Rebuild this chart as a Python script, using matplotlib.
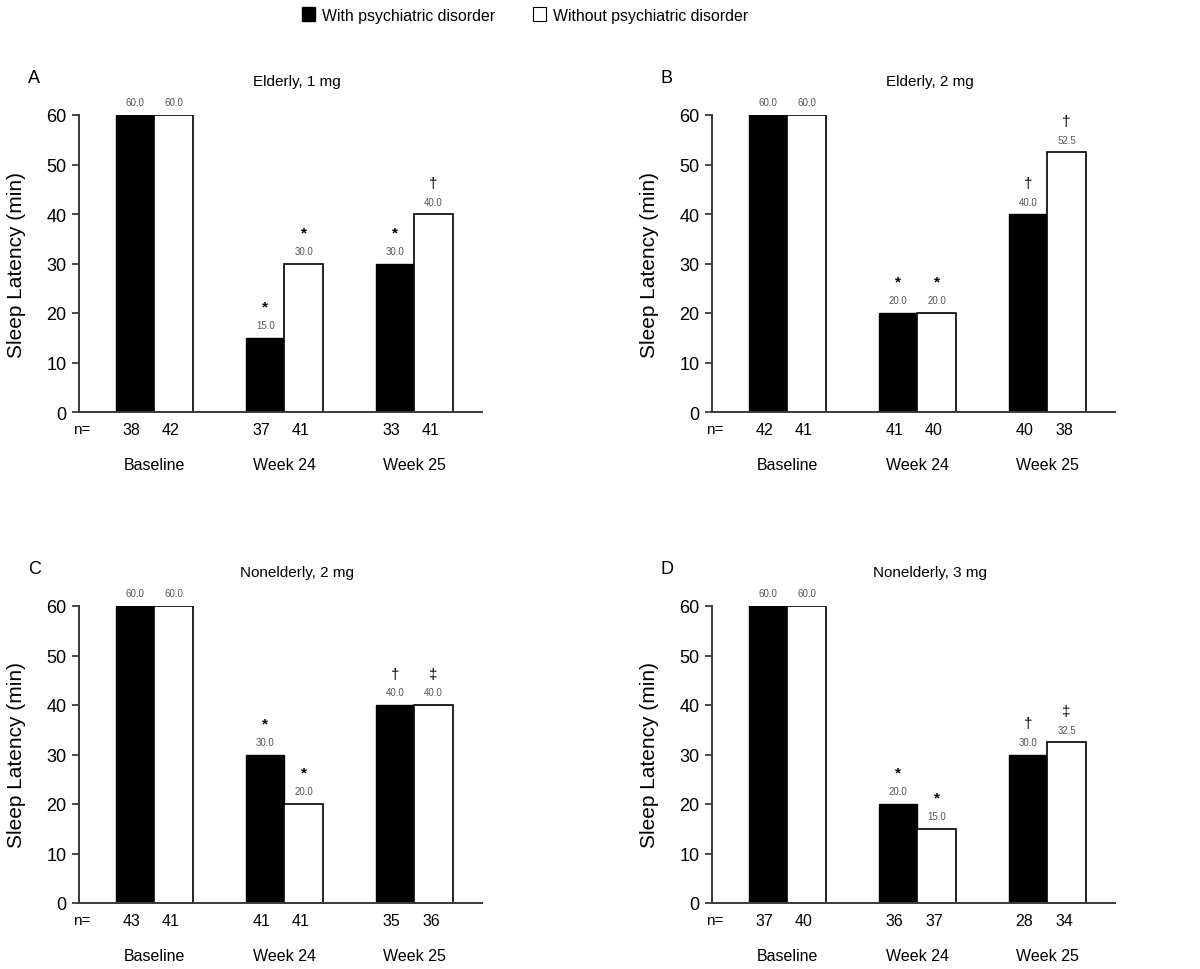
import matplotlib.pyplot as plt
import numpy as np
from matplotlib.patches import Patch

plt.rcParams["font.family"] = ["Liberation Sans", "DejaVu Sans"]

# categories shared by every panel
timepoints = ["Baseline", "Week 24", "Week 25"]

# panel A: Elderly, 1 mg
a_with = [60.0, 15.0, 30.0]
a_without = [60.0, 30.0, 40.0]
a_n_with = [38, 37, 33]
a_n_without = [42, 41, 41]
a_sig_with = ["", "*", "*"]
a_sig_without = ["", "*", "\u2020"]

# panel B: Elderly, 2 mg
b_with = [60.0, 20.0, 40.0]
b_without = [60.0, 20.0, 52.5]
b_n_with = [42, 41, 40]
b_n_without = [41, 40, 38]
b_sig_with = ["", "*", "\u2020"]
b_sig_without = ["", "*", "\u2020"]

# panel C: Nonelderly, 2 mg
c_with = [60.0, 30.0, 40.0]
c_without = [60.0, 20.0, 40.0]
c_n_with = [43, 41, 35]
c_n_without = [41, 41, 36]
c_sig_with = ["", "*", "\u2020"]
c_sig_without = ["", "*", "\u2021"]

# panel D: Nonelderly, 3 mg
d_with = [60.0, 20.0, 30.0]
d_without = [60.0, 15.0, 32.5]
d_n_with = [37, 36, 28]
d_n_without = [40, 37, 34]
d_sig_with = ["", "*", "\u2020"]
d_sig_without = ["", "*", "\u2021"]

AXIS_COLOR = "#3a3a3a"
LABEL_GRAY = "#555555"
BAR_W = 0.295


def panel(ax, letter, title, with_vals, without_vals, n_with, n_without,
          sig_with, sig_without):
    x = np.arange(len(timepoints))
    ax.bar(x - BAR_W / 2, with_vals, BAR_W, color="black",
           edgecolor="black", linewidth=1.0)
    ax.bar(x + BAR_W / 2, without_vals, BAR_W, color="white",
           edgecolor="black", linewidth=1.2)

    for xs, vals, sigs in ((x - BAR_W / 2, with_vals, sig_with),
                           (x + BAR_W / 2, without_vals, sig_without)):
        for xi, v, s in zip(xs, vals, sigs):
            ax.annotate(f"{v:.1f}", (xi, v), xytext=(0, 9),
                        textcoords="offset points", ha="center", va="center",
                        fontsize=7, color=LABEL_GRAY)
            if s:
                ax.annotate(s, (xi, v), xytext=(0, 22.5),
                            textcoords="offset points", ha="center",
                            va="center", fontsize=11, color="black",
                            fontweight="bold" if s == "*" else "normal")

    ax.set_xlim(-0.58, 2.52)
    ax.set_ylim(0, 60)
    ax.set_yticks(range(0, 61, 10))
    ax.set_xticks([])
    ax.tick_params(axis="y", labelsize=13, length=5, width=1.3,
                   color=AXIS_COLOR, pad=4)
    for side in ("top", "right"):
        ax.spines[side].set_visible(False)
    for side in ("left", "bottom"):
        ax.spines[side].set_color(AXIS_COLOR)
        ax.spines[side].set_linewidth(1.4)
    ax.set_ylabel("Sleep Latency (min)", fontsize=15)
    ax.yaxis.set_label_coords(-0.132, 0.5)

    tr = ax.get_xaxis_transform()
    ax.text(-0.015, -0.058, "n=", transform=ax.transAxes, ha="left",
            va="center", fontsize=11)
    for xi, nw, nwo in zip(x, n_with, n_without):
        ax.text(xi - BAR_W / 2 - 0.03, -0.058, str(nw), transform=tr,
                ha="center", va="center", fontsize=11.5)
        ax.text(xi + BAR_W / 2 - 0.02, -0.058, str(nwo), transform=tr,
                ha="center", va="center", fontsize=11.5)
    for xi, lab in zip(x, timepoints):
        ax.text(xi, -0.176, lab, transform=tr, ha="center", va="center",
                fontsize=11.5)

    ax.text(-0.127, 1.125, letter, transform=ax.transAxes, ha="left",
            va="center", fontsize=13)
    ax.text(0.54, 1.115, title, transform=ax.transAxes, ha="center",
            va="center", fontsize=11)


fig = plt.figure(figsize=(12, 9.7), dpi=100)
w, h = 403 / 1200, 297 / 970
ax_a = fig.add_axes([79 / 1200, 1 - 413 / 970, w, h])
ax_b = fig.add_axes([712 / 1200, 1 - 413 / 970, w, h])
ax_c = fig.add_axes([79 / 1200, 1 - 904 / 970, w, h])
ax_d = fig.add_axes([712 / 1200, 1 - 904 / 970, w, h])

panel(ax_a, "A", "Elderly, 1 mg", a_with, a_without, a_n_with, a_n_without,
      a_sig_with, a_sig_without)
panel(ax_b, "B", "Elderly, 2 mg", b_with, b_without, b_n_with, b_n_without,
      b_sig_with, b_sig_without)
panel(ax_c, "C", "Nonelderly, 2 mg", c_with, c_without, c_n_with, c_n_without,
      c_sig_with, c_sig_without)
panel(ax_d, "D", "Nonelderly, 3 mg", d_with, d_without, d_n_with, d_n_without,
      d_sig_with, d_sig_without)

handles = [Patch(facecolor="black", edgecolor="black"),
           Patch(facecolor="white", edgecolor="black", linewidth=0.8)]
fig.legend(handles, ["With psychiatric disorder", "Without psychiatric disorder"],
           loc="center", bbox_to_anchor=(0.4375, 1 - 16 / 970), ncol=2,
           frameon=False, fontsize=11.4, handlelength=0.8, handleheight=0.95,
           handletextpad=0.45, columnspacing=2.4)

fig.savefig("out.png", dpi=100)
